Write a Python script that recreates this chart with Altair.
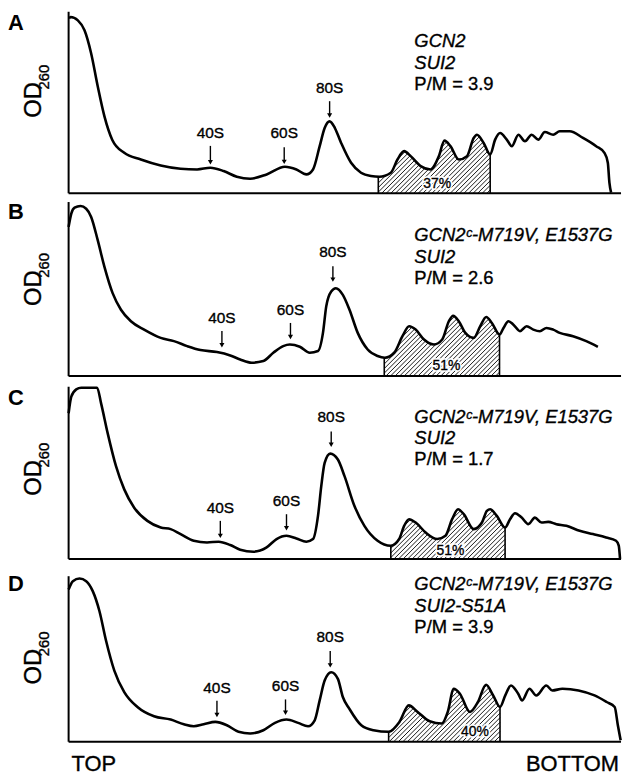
import altair as alt
import numpy as np
import pandas as pd

W, H = 556, 184
FONT = "Liberation Sans"

# ---------------- curves (x: position along gradient, y: OD260 height) ----------------
A_x = [0.5, 2, 9.3, 16, 22.7, 29.3, 36, 44, 56, 72.7, 92.7, 112.7, 129.3, 142.7, 156, 169.3, 182.7, 199.3, 217.7,
       229.3, 239.3, 246, 252.7, 257.7, 262.7, 268, 274.3, 284.3, 294.3, 304.3, 312.7, 324.3, 331, 337.7, 344.3,
       354.3, 364.3, 372.7, 378.3, 384.3, 392.7, 401, 407.7, 411, 417.7, 424.3, 429.3, 434.3, 441, 446, 452.7,
       459.3, 466, 472.7, 479.3, 487.7, 494.3, 504.3, 517.7, 531, 539.3, 542.7, 544.3, 546]
A_y = [176, 177.4, 174, 164, 140.7, 107.7, 77.7, 53.7, 40.7, 34, 28, 24.7, 24, 25.7, 22.4, 16.7, 14.7, 19, 26.7,
       24, 19, 24, 47.4, 65.7, 72.4, 65.7, 50.7, 30.7, 20.7, 17.4, 16.7, 20.7, 34, 42.4, 37.4,
       27.4, 24, 37.4, 53, 47.4, 34, 37.4, 55.7, 59, 50.7, 39, 54, 60.7, 54, 47.4, 59,
       52.4, 59, 54, 61.7, 59, 62.4, 62.4, 55.7, 47.4, 40.7, 30.7, 10.7, 0.7]

B_x = [0, 2.7, 6, 12, 17.7, 22.7, 29.3, 36, 44.3, 52.7, 62.7, 76, 92.7, 106, 119.3, 132.7, 149.3, 162.7, 172.7,
       184.3, 196, 206, 216, 222.7, 232.7, 242.7, 251, 256, 259.3, 264.3, 269, 276, 282.7, 291, 301, 311, 318.3,
       327.7, 336, 342.7, 349.3, 357.7, 367.7, 376, 382.7, 387, 392.7, 399.3, 407.7, 414.3, 420.3, 426, 433.7,
       437.7, 442.7, 447.7, 454.3, 461, 467.7, 474.3, 481, 487.7, 494.3, 507.7, 521, 532.7]
B_y = [150.2, 163.5, 169.5, 171.2, 168.5, 160.2, 136.8, 110.2, 83.5, 66.8, 55.2, 46.8, 38.5, 35.2, 30.2, 26.2,
       24.2, 20.8, 16.8, 13.5, 15.2, 23.5, 30.2, 31.8, 29.5, 23.5, 25.2, 43.5, 70.2, 85.2, 88.5, 81.8, 66.8, 43.5,
       26.8, 20.2, 18.5, 23.5, 40.2, 50.2, 46.8, 36.8, 31.8, 36.8, 55.2, 60.8, 55.2, 43.5, 38.5, 50.2, 59.5, 53.5,
       41.8, 48.5, 55.2, 51.8, 45.2, 50.2, 46.8, 45.2, 48.5, 46.8, 43.5, 40.2, 35.2, 29.5]

C_x = [0, 2.7, 7.7, 12.7, 28.7, 32.7, 39.3, 47.7, 56, 66, 79.3, 92.7, 102.7, 112.7, 126, 139.3, 151, 162.7, 172.7,
       186, 199.3, 209.3, 219.3, 229.3, 239.3, 246, 251, 254.3, 257.7, 263.3, 271, 277.7, 287.7, 297.7, 311,
       324.3, 332.7, 337.7, 342.7, 349.3, 359.3, 371, 379.3, 386, 392, 397.7, 407.7, 416, 421, 424.3, 431, 439.3,
       444.3, 449.3, 456, 462.7, 469.3, 476, 482.7, 491, 501, 514.3, 527.7, 541, 551, 553.7, 555]
C_y = [146.6, 163.3, 170.6, 172.3, 172.3, 156.6, 126.6, 93.3, 70, 51.6, 38.3, 31.6, 30, 25, 18.3, 16.6, 17.3, 14,
       9.3, 7.3, 11.6, 20, 23.3, 20.6, 17.3, 20, 43.3, 73.3, 96.6, 106, 100, 83.3, 53.3, 33.3, 18.3,
       13.3, 20, 33.3, 40, 36.6, 26.6, 20, 23.3, 40, 50, 45, 30, 36.6, 48.3, 50, 43.3, 31.6,
       40, 46, 41.6, 35, 41.6, 36.6, 37.3, 35, 33.3, 28.3, 25, 21.6, 18.3, 13.3, 0]

D_x = [0, 4.3, 11, 17.7, 24.3, 31, 37.7, 46, 56, 69.3, 86, 102.7, 116, 126, 136, 147.7, 159.3, 171, 182.7, 196,
       207.7, 219.3, 231, 241, 247.7, 252.7, 257.7, 264.3, 271, 276, 282.5, 294.6, 306.8, 322.1, 333, 342.4,
       351.3, 363.4, 375.6, 381.6, 387.7, 393.8, 403.9, 412, 420.1, 427.3, 434.2, 439.5, 445.2, 452.5, 456.5,
       463.8, 470.7, 480.8, 486.8, 497, 513.2, 529.3, 541.5, 549.6, 552.8, 555.6]
D_y = [153.3, 161.6, 164.3, 161.6, 151.6, 131.6, 101.6, 71.6, 50, 35, 25.6, 22.3, 17.6, 15.6, 17.6, 20, 16.6, 10,
       8.3, 11.6, 19, 22.3, 19, 15.6, 21.6, 41.6, 61.6, 70, 63.3, 45, 33.3, 16.6, 11.6, 10, 20, 36.6,
       30, 20.6, 18.3, 30, 53.3, 48.3, 30, 40, 57.3, 46.6, 35, 46.6, 56.6, 48.3, 41.6,
       53.3, 46.6, 56.6, 51.6, 53.3, 51.6, 46.6, 40, 35, 16.6, 1.6]

# ---------------- annotations ----------------
panel_letters = ["A", "B", "C", "D"]
genotype_lines = [
    ["GCN2", "SUI2"],
    ["GCN2ᶜ-M719V, E1537G", "SUI2"],
    ["GCN2ᶜ-M719V, E1537G", "SUI2"],
    ["GCN2ᶜ-M719V, E1537G", "SUI2-S51A"],
]
pm_labels = ["P/M = 3.9", "P/M = 2.6", "P/M = 1.7", "P/M = 3.9"]
info_y = [[153, 130.7, 109.7], [141.8, 120.2, 99.2], [143.3, 121.6, 100.6], [158.3, 136.6, 115]]
info_x = 348

peak_names = ["40S", "60S", "80S"]
peak_x = [[142.7, 217, 262.7], [154.3, 223.3, 266], [152.7, 219.3, 264.3], [149.3, 218.3, 263.3]]
peak_text_y = [[60.7, 60.7, 105.7], [58.5, 66.8, 125.2], [51.6, 58.3, 143.3], [54.3, 56, 105]]
arrow_top = [[47.7, 46.4, 92.7], [45.5, 53.5, 110.5], [38.3, 45, 128.3], [41.3, 42.6, 91.3]]
arrow_bottom = [[28.7, 29, 75.7], [28.5, 36.8, 94.5], [20.6, 28.3, 112.3], [24.3, 26.6, 74.3]]

poly_pct = ["37%", "51%", "51%", "40%"]
pct_pos = [(371, 9.7), (380.3, 10.2), (384.3, 7.6), (409, 9.3)]
hatch_range = [(311.7, 424.3), (317.7, 433.7), (324.3, 439.3), (322.1, 434.2)]

yaxis_top = [182.7, 175.2, 173.3, 166.6]
letter_y = [171.7, 165, 162, 159]
od_y = [94, 88.5, 81.5, 75.5]

curves = [(A_x, A_y), (B_x, B_y), (C_x, C_y), (D_x, D_y)]

TXT = dict(font=FONT, stroke="black", strokeWidth=0.35, baseline="middle")


def X(f="x"):
    return alt.X(f"{f}:Q", scale=alt.Scale(domain=[0, W], nice=False, zero=False), axis=None)


def Y(f="y"):
    return alt.Y(f"{f}:Q", scale=alt.Scale(domain=[0, H], nice=False, zero=False), axis=None)


def make_panel(i):
    cx, cy = curves[i]
    cx = np.array(cx, dtype=float)
    cy = np.array(cy, dtype=float)
    curve = pd.DataFrame({"x": cx, "y": cy})
    x0, x1 = hatch_range[i]
    inside = (cx >= x0) & (cx <= x1)
    hmax = float(max(cy[inside].max(), np.interp(x0, cx, cy), np.interp(x1, cx, cy))) + 2

    # hatch lines (45 degrees) filling the polysome region
    step = 4.6
    segs = []
    for c in np.arange(x0 - hmax, x1, step):
        ylo = max(0.0, x0 - c)
        yhi = min(hmax, x1 - c)
        if yhi - ylo > 0.3:
            segs.append({"x": c + ylo, "y": ylo, "x2": c + yhi, "y2": yhi})
    hdf = pd.DataFrame(segs)
    idx = np.where(inside)[0]
    lo, hi = max(idx[0] - 1, 0), min(idx[-1] + 1, len(cx) - 1)
    mdf = curve.iloc[lo:hi + 1].copy()
    mdf["top"] = hmax + 2

    hatch = alt.Chart(hdf).mark_rule(color="black", strokeWidth=0.9).encode(
        x=X(), y=Y(), x2="x2:Q", y2="y2:Q")
    mask = alt.Chart(mdf).mark_area(color="white", interpolate="monotone").encode(
        x=X(), y=Y(), y2="top:Q")
    line = alt.Chart(curve).mark_line(color="black", strokeWidth=2.6, interpolate="monotone").encode(
        x=X(), y=Y())

    axes_df = pd.DataFrame({"x": [0, 0], "x2": [W, 0], "y": [0, 0], "y2": [0, yaxis_top[i]]})
    axes = alt.Chart(axes_df).mark_rule(color="black", strokeWidth=2).encode(
        x=X(), y=Y(), x2="x2:Q", y2="y2:Q")
    bdf = pd.DataFrame({"x": [x0, x1], "y": [0, 0],
                        "y2": [np.interp(x0, cx, cy), np.interp(x1, cx, cy)]})
    bounds = alt.Chart(bdf).mark_rule(color="black", strokeWidth=1.6).encode(
        x=X(), y=Y(), y2="y2:Q")

    pk = pd.DataFrame({"x": peak_x[i], "y": peak_text_y[i], "label": peak_names,
                       "top": arrow_top[i], "bottom": arrow_bottom[i]})
    pk["shaft_end"] = pk["bottom"] + 3
    pk["head"] = pk["bottom"] + 2.6
    peak_text = alt.Chart(pk).mark_text(fontSize=15.5, **TXT).encode(
        x=X(), y=Y(), text="label:N")
    shafts = alt.Chart(pk).mark_rule(color="black", strokeWidth=1.4).encode(
        x=X(), y=Y("top"), y2="shaft_end:Q")
    heads = alt.Chart(pk).mark_point(shape="triangle-down", filled=True, size=26, color="black",
                                     opacity=1, strokeWidth=0).encode(x=X(), y=Y("head"))

    it = pd.DataFrame({"x": [info_x] * 2, "y": info_y[i][:2], "t": genotype_lines[i]})
    nt = pd.DataFrame({"x": [info_x], "y": [info_y[i][2]], "t": [pm_labels[i]]})
    italic = alt.Chart(it).mark_text(fontSize=18.5, fontStyle="italic", align="left", **TXT).encode(
        x=X(), y=Y(), text="t:N")
    normal = alt.Chart(nt).mark_text(fontSize=18.5, align="left", **TXT).encode(
        x=X(), y=Y(), text="t:N")

    pdf = pd.DataFrame({"x": [pct_pos[i][0]], "y": [pct_pos[i][1]], "t": [poly_pct[i]]})
    pct_halo = alt.Chart(pdf).mark_text(font=FONT, fontSize=14, baseline="middle", color="white",
                                        stroke="white", strokeWidth=3.5).encode(
        x=X(), y=Y(), text="t:N")
    pct = alt.Chart(pdf).mark_text(fontSize=14, **TXT).encode(x=X(), y=Y(), text="t:N")

    ldf = pd.DataFrame({"x": [-53], "y": [letter_y[i]], "t": [panel_letters[i]]})
    letter = alt.Chart(ldf).mark_text(font=FONT, fontSize=22, fontWeight="bold",
                                      baseline="middle").encode(x=X(), y=Y(), text="t:N")
    odf = pd.DataFrame({"x": [-34.4], "y": [od_y[i]], "t": ["OD"]})
    od = alt.Chart(odf).mark_text(fontSize=24, angle=270, **TXT).encode(
        x=X(), y=Y(), text="t:N")
    sdf = pd.DataFrame({"x": [-24.5], "y": [od_y[i] + 23], "t": ["260"]})
    sub = alt.Chart(sdf).mark_text(fontSize=15, angle=270, **TXT).encode(
        x=X(), y=Y(), text="t:N")

    layers = [hatch, mask, line, axes, bounds, shafts, heads, peak_text, italic, normal,
              pct_halo, pct, letter, od, sub]
    if i == 3:
        tdf = pd.DataFrame({"x": [3], "y": [-22], "t": ["TOP"]})
        bdf2 = pd.DataFrame({"x": [W - 2], "y": [-22], "t": ["BOTTOM"]})
        layers.append(alt.Chart(tdf).mark_text(fontSize=22, align="left", **TXT)
                      .encode(x=X(), y=Y(), text="t:N"))
        layers.append(alt.Chart(bdf2).mark_text(fontSize=22, align="right", **TXT)
                      .encode(x=X(), y=Y(), text="t:N"))
    return alt.layer(*layers).properties(width=W, height=H)


chart = alt.vconcat(*[make_panel(i) for i in range(4)], spacing=0, bounds="flush").properties(
    padding={"left": 0, "top": 0, "right": 0, "bottom": 0}
).configure_view(stroke=None)

chart.save("out.html", embed_options={"renderer": "svg", "actions": False})
